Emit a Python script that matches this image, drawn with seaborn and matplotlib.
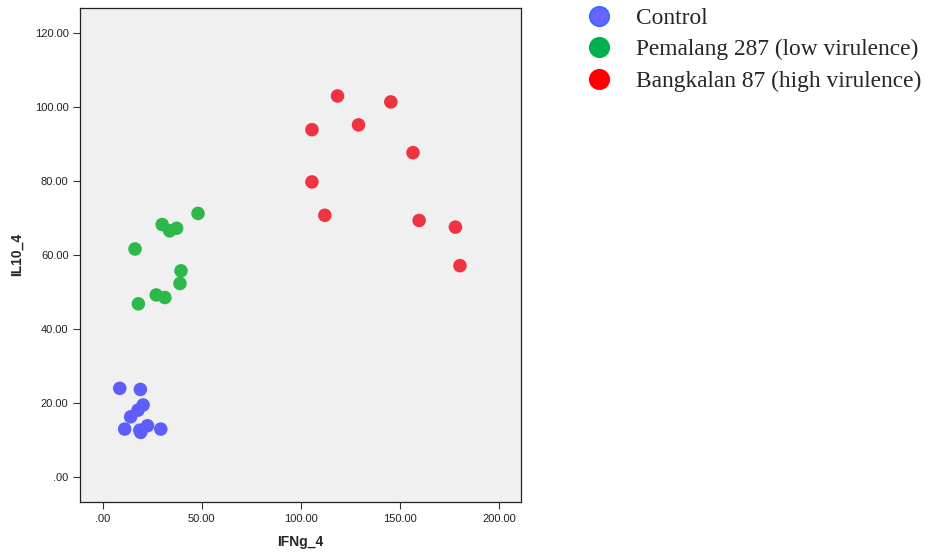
import matplotlib
matplotlib.use("Agg")
import matplotlib.pyplot as plt
import seaborn as sns
import pandas as pd
from matplotlib.lines import Line2D
from matplotlib.ticker import FuncFormatter

groups = ["Control", "Pemalang 287 (low virulence)", "Bangkalan 87 (high virulence)"]

control_ifng = [8.6, 19.0, 20.4, 17.8, 14.1, 11.1, 18.7, 22.6, 19.2, 29.3]
control_il10 = [24.0, 23.7, 19.5, 18.1, 16.3, 13.0, 12.7, 13.9, 12.1, 13.0]

pemalang_ifng = [16.3, 18.0, 27.0, 31.4, 30.0, 33.8, 37.3, 48.1, 39.5, 39.0]
pemalang_il10 = [61.6, 46.8, 49.2, 48.5, 68.2, 66.5, 67.2, 71.2, 55.7, 52.3]

bangkalan_ifng = [105.6, 118.5, 129.1, 145.4, 156.6, 105.6, 112.1, 159.7, 178.0, 180.3]
bangkalan_il10 = [93.8, 102.9, 95.1, 101.3, 87.6, 79.7, 70.7, 69.3, 67.5, 57.1]

x_ticks = [0, 50, 100, 150, 200]
y_ticks = [0, 20, 40, 60, 80, 100, 120]

df = pd.DataFrame({
    "IFNg_4": control_ifng + pemalang_ifng + bangkalan_ifng,
    "IL10_4": control_il10 + pemalang_il10 + bangkalan_il10,
    "group": [groups[0]] * len(control_ifng) + [groups[1]] * len(pemalang_ifng) + [groups[2]] * len(bangkalan_ifng),
})

point_colors = {groups[0]: "#5e5efa", groups[1]: "#2eb84b", groups[2]: "#ef3340"}
legend_colors = ["#6666ff", "#00b050", "#ff0000"]
legend_edges = ["#2f6bff", "#00b050", "#ff0000"]

sns.set_style("white")
plt.rcParams["font.family"] = ["Liberation Sans", "DejaVu Sans"]

fig = plt.figure(figsize=(9.34, 5.56), dpi=100)
ax = fig.add_axes([0.086, 0.097, 0.472, 0.889])
ax.set_facecolor("#f0f0f0")

sns.scatterplot(data=df, x="IFNg_4", y="IL10_4", hue="group", palette=point_colors,
                s=95, linewidth=0, alpha=1.0, legend=False, ax=ax)

ax.set_xlim(-11.3, 211.2)
ax.set_ylim(-6.7, 126.7)
ax.set_xticks(x_ticks)
ax.set_yticks(y_ticks)

def fmt(v, pos):
    s = f"{v:.2f}"
    if s.startswith("0."):
        s = s[1:]
    return s

ax.xaxis.set_major_formatter(FuncFormatter(fmt))
ax.yaxis.set_major_formatter(FuncFormatter(fmt))
ax.tick_params(axis="both", direction="out", length=5, width=0.8, color="#333333",
               labelsize=8, labelcolor="#222222", bottom=True, left=True)
for sp in ax.spines.values():
    sp.set_color("#222222")
    sp.set_linewidth(0.9)

ax.set_xlabel("IFNg_4", fontsize=10, fontweight="bold", labelpad=8)
ax.set_ylabel("IL10_4", fontsize=10, fontweight="bold", labelpad=8)

handles = [Line2D([0], [0], marker="o", linestyle="none", markersize=14,
                  markerfacecolor=c, markeredgecolor=e, markeredgewidth=1.2)
           for c, e in zip(legend_colors, legend_edges)]
fig.legend(handles, groups, loc="upper left", bbox_to_anchor=(0.616, 1.003),
           frameon=False, prop={"family": "Liberation Serif", "size": 16.8},
           handlelength=1.2, handletextpad=1.0, labelspacing=0.43, borderaxespad=0)

fig.savefig("out.png", dpi=100)
